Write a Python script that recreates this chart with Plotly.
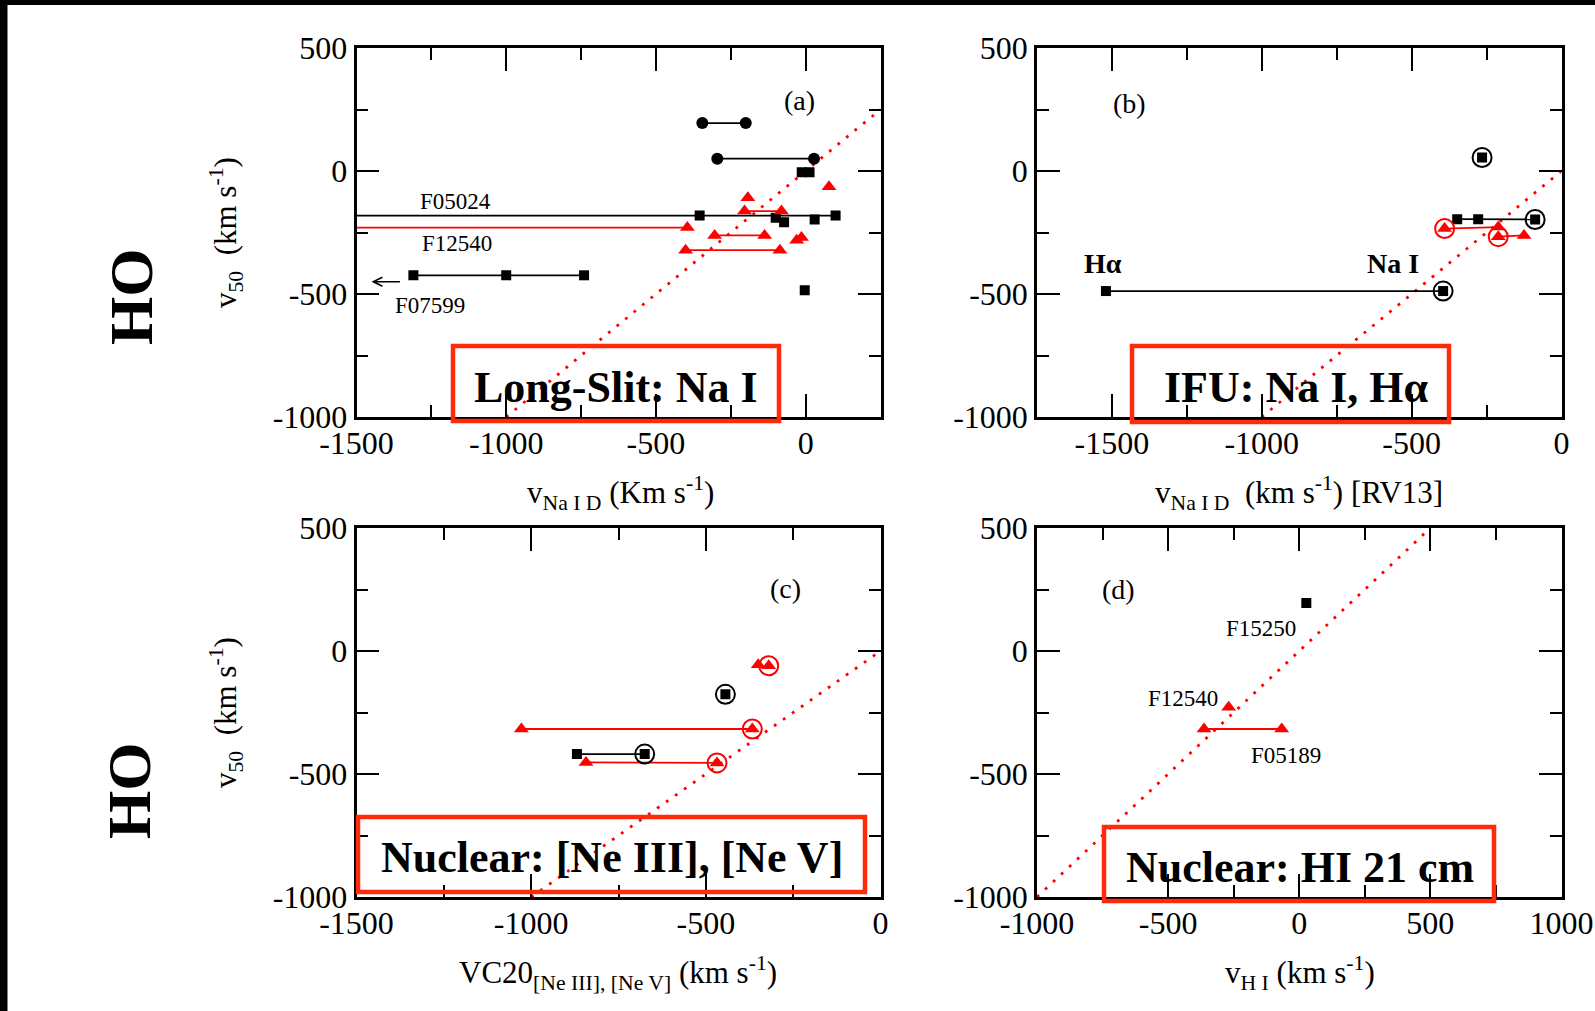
import plotly.graph_objects as go

W, H = 1595, 1011
SERIF = "Liberation Serif"
RED = "#ff0000"
BOX_RED = "#ff2a0a"

# ---------------- tick values ----------------
Y_TICKS = [-1000, -500, 0, 500]
X_TICKS_A = [-1500, -1000, -500, 0]
X_TICKS_B = [-1500, -1000, -500, 0]
X_TICKS_C = [-1500, -1000, -500, 0]
X_TICKS_D = [-1000, -500, 0, 500, 1000]

# ---------------- panel (a): long-slit Na I ----------------
A_CIRC_X = [-345, -200, -295, 28]
A_CIRC_Y = [195, 195, 50, 50]
A_SQ_X = [-354, 100, -100, -72, 30, -13, 13, -3, -1310, -1000, -740]
A_SQ_Y = [-181, -181, -190, -208, -197, -5, -5, -485, -424, -424, -424]
A_TRI_X = [-395, -193, -204, -81, 78, -304, -137, -401, -86, -30, -14]
A_TRI_Y = [-230, -109, -163, -163, -64, -262, -262, -322, -322, -281, -270]
# connections (x1, y1, x2, y2); F05024 / F12540 start beyond the axis
A_BLACK_SEG = [(-345, 195, -200, 195), (-295, 50, 28, 50),
               (-1800, -181, 100, -181), (-1310, -424, -740, -424)]
A_RED_SEG = [(-1800, -230, -395, -230), (-204, -163, -81, -163),
             (-304, -262, -137, -262), (-401, -322, -86, -322)]
A_ONE = [-1000, 250]
# F07599 continues off the left edge
A_ARROW = (-1350, -450, -1450, -450)

# ---------------- panel (b): IFU Na I, H-alpha ----------------
B_SQ_X = [-265, -348, -278, -88, -1520, -395]
B_SQ_Y = [55, -196, -196, -197, -488, -488]
B_SQ_RING = [True, False, False, True, False, True]
B_TRI_X = [-390, -211, -211, -125]
B_TRI_Y = [-234, -228, -267, -262]
B_TRI_RING = [True, False, True, False]
B_BLACK_SEG = [(-348, -196, -88, -197), (-1520, -488, -395, -488)]
B_RED_SEG = [(-390, -234, -211, -228), (-211, -267, -125, -262)]
B_ONE = [-1000, 0]

# ---------------- panel (c): nuclear [Ne III], [Ne V] ----------------
C_SQ_X = [-444, -869, -675]
C_SQ_Y = [-176, -419, -419]
C_SQ_RING = [True, False, True]
C_TRI_X = [-350, -320, -1028, -367, -843, -468]
C_TRI_Y = [-56, -60, -317, -317, -453, -455]
C_TRI_RING = [False, True, False, True, False, True]
C_BLACK_SEG = [(-869, -419, -675, -419)]
C_RED_SEG = [(-1028, -317, -367, -317), (-843, -453, -468, -455)]
C_ONE = [-1000, 0]

# ---------------- panel (d): nuclear HI 21 cm ----------------
D_SQ_X = [27]
D_SQ_Y = [195]
D_TRI_X = [-269, -363, -67]
D_TRI_Y = [-229, -317, -317]
D_RED_SEG = [(-363, -317, -67, -317)]
D_ONE = [-1000, 500]

# object names written next to the points
A_NAMES = [("F05024", -1168, -126), ("F12540", -1163, -294), ("F07599", -1255, -545)]
B_NAMES = [("Hα", -1531, -375), ("Na I", -562, -375)]
D_NAMES = [("F15250", -146, 92), ("F12540", -442, -195), ("F05189", -50, -423)]
PANEL_TAGS = [("(a)", -19, 285), ("(b)", -1440, 276), ("(c)", -271, 255), ("(d)", -691, 248)]


def px(x):
    return x / W


def py(y):
    return 1 - y / H


def seg_xy(segs):
    xs, ys = [], []
    for x1, y1, x2, y2 in segs:
        xs += [x1, x2, None]
        ys += [y1, y2, None]
    return xs, ys


fig = go.Figure()


def add_panel(n, one, black_seg, red_seg, sq_x, sq_y, sq_ring,
              tri_x, tri_y, tri_ring, circ_x=None, circ_y=None):
    xa = "x" if n == 1 else f"x{n}"
    ya = "y" if n == 1 else f"y{n}"
    common = dict(xaxis=xa, yaxis=ya, showlegend=False, hoverinfo="skip")
    # one-to-one relation
    fig.add_trace(go.Scatter(x=one, y=one, mode="lines",
                             line=dict(color=RED, width=2.8, dash="2.8px,8.2px"), **common))
    if black_seg:
        bx, by = seg_xy(black_seg)
        fig.add_trace(go.Scatter(x=bx, y=by, mode="lines",
                                 line=dict(color="black", width=1.8), **common))
    if red_seg:
        rx, ry = seg_xy(red_seg)
        fig.add_trace(go.Scatter(x=rx, y=ry, mode="lines",
                                 line=dict(color=RED, width=1.8), **common))
    if circ_x:
        fig.add_trace(go.Scatter(x=circ_x, y=circ_y, mode="markers",
                                 marker=dict(symbol="circle", size=12, color="black",
                                             line=dict(width=0)), **common))
    if sq_x:
        fig.add_trace(go.Scatter(x=sq_x, y=sq_y, mode="markers",
                                 marker=dict(symbol="square", size=10, color="black",
                                             line=dict(width=0)), **common))
        rx = [x for x, r in zip(sq_x, sq_ring) if r]
        ry = [y for y, r in zip(sq_y, sq_ring) if r]
        if rx:
            fig.add_trace(go.Scatter(x=rx, y=ry, mode="markers",
                                     marker=dict(symbol="circle-open", size=19, color="black",
                                                 line=dict(width=2, color="black")), **common))
    if tri_x:
        fig.add_trace(go.Scatter(x=tri_x, y=tri_y, mode="markers",
                                 marker=dict(symbol="triangle-up", size=13, color=RED,
                                             line=dict(width=0)), **common))
        rx = [x for x, r in zip(tri_x, tri_ring) if r]
        ry = [y for y, r in zip(tri_y, tri_ring) if r]
        if rx:
            fig.add_trace(go.Scatter(x=rx, y=ry, mode="markers",
                                     marker=dict(symbol="circle-open", size=19, color=RED,
                                                 line=dict(width=2, color=RED)), **common))


add_panel(1, A_ONE, A_BLACK_SEG, A_RED_SEG, A_SQ_X, A_SQ_Y, [False] * len(A_SQ_X),
          A_TRI_X, A_TRI_Y, [False] * len(A_TRI_X), A_CIRC_X, A_CIRC_Y)
add_panel(2, B_ONE, B_BLACK_SEG, B_RED_SEG, B_SQ_X, B_SQ_Y, B_SQ_RING,
          B_TRI_X, B_TRI_Y, B_TRI_RING)
add_panel(3, C_ONE, C_BLACK_SEG, C_RED_SEG, C_SQ_X, C_SQ_Y, C_SQ_RING,
          C_TRI_X, C_TRI_Y, C_TRI_RING)
add_panel(4, D_ONE, [], D_RED_SEG, D_SQ_X, D_SQ_Y, [False],
          D_TRI_X, D_TRI_Y, [False] * len(D_TRI_X))


def axis(dom, rng, ticks, horizontal):
    lo, hi = rng
    minor_vals = [v for v in range(int(lo), int(hi) + 1, 250) if v not in ticks]
    return dict(
        domain=[px(dom[0]), px(dom[1])] if horizontal else [py(dom[1]), py(dom[0])],
        range=list(rng), tickmode="array", tickvals=ticks,
        ticktext=[str(t) for t in ticks],
        ticks="inside", ticklen=23, tickwidth=2, tickcolor="black",
        minor=dict(tickmode="array", tickvals=minor_vals, ticks="inside",
                   ticklen=12, tickwidth=2, tickcolor="black"),
        showline=True, linewidth=2.5, linecolor="black", mirror="ticks",
        showgrid=False, zeroline=False, fixedrange=True, automargin=False,
        ticklabelstandoff=-4 if horizontal else 0,
        tickfont=dict(family=SERIF, size=32, color="black"),
    )


TOP = (48, 417)
BOT = (528, 897)
LEFT = (356.5, 880.5)
RIGHT = (1037, 1561.5)

fig.update_layout(
    template="none",
    width=W, height=H, autosize=False,
    margin=dict(l=0, r=0, t=0, b=0, pad=0, autoexpand=False),
    paper_bgcolor="white", plot_bgcolor="white",
    xaxis=dict(axis(LEFT, (-1500, 250), X_TICKS_A, True), anchor="y"),
    yaxis=dict(axis(TOP, (-1000, 500), Y_TICKS, False), anchor="x"),
    xaxis2=dict(axis(RIGHT, (-1750, 0), X_TICKS_B, True), anchor="y2"),
    yaxis2=dict(axis(TOP, (-1000, 500), Y_TICKS, False), anchor="x2"),
    xaxis3=dict(axis(LEFT, (-1500, 0), X_TICKS_C, True), anchor="y3"),
    yaxis3=dict(axis(BOT, (-1000, 500), Y_TICKS, False), anchor="x3"),
    xaxis4=dict(axis(RIGHT, (-1000, 1000), X_TICKS_D, True), anchor="y4"),
    yaxis4=dict(axis(BOT, (-1000, 500), Y_TICKS, False), anchor="x4"),
)

ann = []


def note(text, x, y, xref, yref, size, bold=False, angle=0, xanchor="center", yanchor="middle"):
    ann.append(dict(text=f"<b>{text}</b>" if bold else text, x=x, y=y, xref=xref, yref=yref,
                    showarrow=False, textangle=angle, xanchor=xanchor, yanchor=yanchor,
                    font=dict(family=SERIF, size=size, color="black")))


for t, x, y in A_NAMES:
    note(t, x, y, "x", "y", 23)
ax0, ay0, ax1, ay1 = A_ARROW
ann.append(dict(text="", x=ax1, y=ay1, ax=ax0, ay=ay0, xref="x", yref="y", axref="x", ayref="y",
                showarrow=True, arrowhead=5, arrowsize=1.1, arrowwidth=1.6, arrowcolor="black"))
for t, x, y in B_NAMES:
    note(t, x, y, "x2", "y2", 28, bold=True)
for t, x, y in D_NAMES:
    note(t, x, y, "x4", "y4", 23)
for (t, x, y), (xr, yr) in zip(PANEL_TAGS, [("x", "y"), ("x2", "y2"), ("x3", "y3"), ("x4", "y4")]):
    note(t, x, y, xr, yr, 28)

# axis titles
note("v<sub>50</sub>  (km s<sup>-1</sup>)", px(226), py(233), "paper", "paper", 31, angle=-90)
note("v<sub>50</sub>  (km s<sup>-1</sup>)", px(226), py(713), "paper", "paper", 31, angle=-90)
note("v<sub>Na I D</sub> (Km s<sup>-1</sup>)", px(620), py(493), "paper", "paper", 31)
note("v<sub>Na I D</sub>  (km s<sup>-1</sup>) [RV13]", px(1299), py(493), "paper", "paper", 31)
note("VC20<sub>[Ne III], [Ne V]</sub> (km s<sup>-1</sup>)", px(618), py(973), "paper", "paper", 31)
note("v<sub>H I</sub> (km s<sup>-1</sup>)", px(1300), py(973), "paper", "paper", 31)

# row labels
note("HO", px(131), py(297), "paper", "paper", 62, bold=True, angle=-90)
note("HO", px(129), py(791), "paper", "paper", 62, bold=True, angle=-90)

# method boxes
BOXES = [((453, 779, 346, 421), "Long-Slit: Na I", (616, 387)),
         ((1132, 1449, 346, 422), "IFU: Na I, Hα", (1296, 387)),
         ((358, 865, 817, 892), "Nuclear: [Ne III], [Ne V]", (612, 857)),
         ((1104, 1494, 827, 901), "Nuclear: HI 21 cm", (1300, 867))]
shapes = []
for (x0, x1, y0, y1), text, (tx, ty) in BOXES:
    shapes.append(dict(type="rect", xref="paper", yref="paper",
                       x0=px(x0), x1=px(x1), y0=py(y1), y1=py(y0),
                       line=dict(color=BOX_RED, width=4.5), fillcolor="rgba(0,0,0,0)",
                       layer="above"))
    note(text, px(tx), py(ty), "paper", "paper", 44, bold=True)

# dark frame along the top and left edges
shapes.append(dict(type="rect", xref="paper", yref="paper", x0=0, x1=px(7.5), y0=0, y1=1,
                   fillcolor="black", line=dict(width=0), layer="above"))
shapes.append(dict(type="rect", xref="paper", yref="paper", x0=0, x1=1, y0=py(5), y1=1,
                   fillcolor="black", line=dict(width=0), layer="above"))

fig.update_layout(annotations=ann, shapes=shapes)
fig.write_html("out.html")
